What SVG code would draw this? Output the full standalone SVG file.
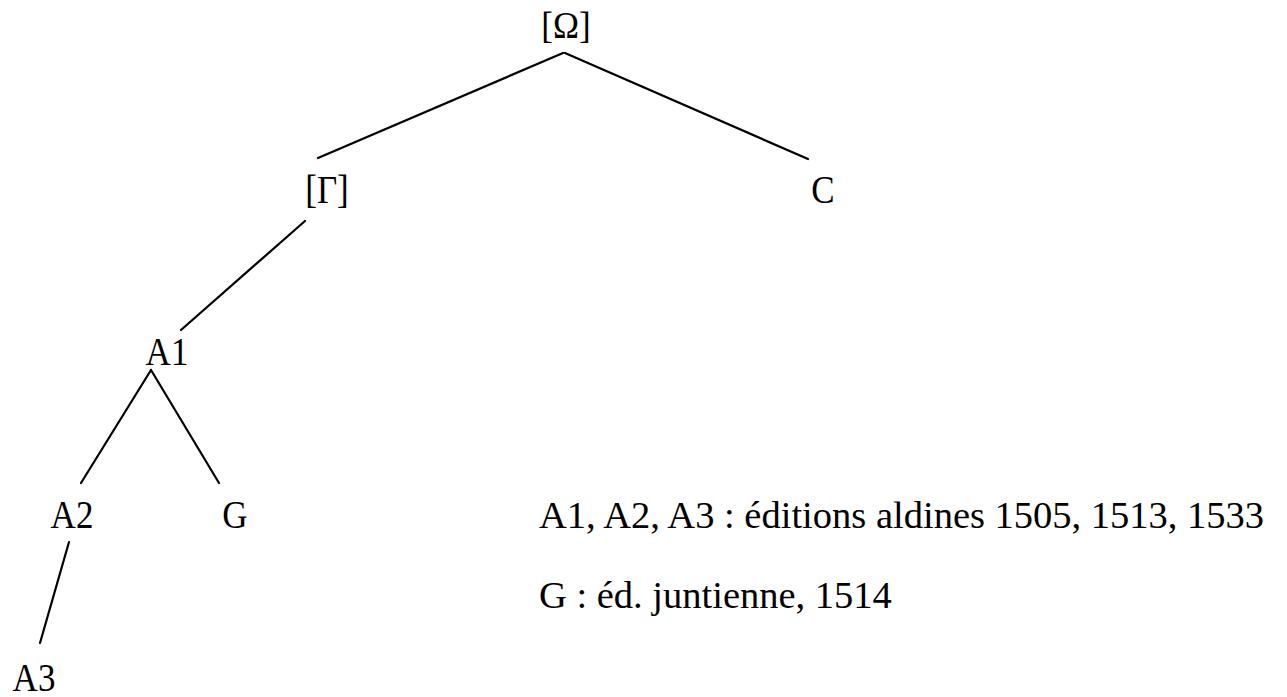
<svg xmlns="http://www.w3.org/2000/svg" width="1287" height="697" viewBox="0 0 1287 697">
<style>
text{font-family:"Liberation Serif","Times New Roman",serif;fill:#000}
.n{font-size:35px;text-anchor:middle}
.l{font-size:38.5px}
.e{stroke:#000;stroke-width:2.2;fill:none;stroke-linecap:round}
</style>
<rect width="1287" height="697" fill="#fff"/>
<g id="connectors">
<line class="e" x1="563" y1="53" x2="318" y2="158"/>
<line class="e" x1="565" y1="53" x2="808" y2="159"/>
<line class="e" x1="305" y1="221" x2="181" y2="330"/>
<line class="e" x1="151" y1="370" x2="81" y2="483"/>
<line class="e" x1="151" y1="370" x2="219" y2="483"/>
<line class="e" x1="69" y1="542" x2="40" y2="643"/>
</g>
<g id="node-omega"><text class="n" transform="translate(566,38) scale(1,1.1)">[Ω]</text></g>
<g id="node-gamma"><text class="n" transform="translate(327,203) scale(1,1.15)">[Γ]</text></g>
<g id="node-C"><text class="n" transform="translate(823,203) scale(1,1.15)">C</text></g>
<g id="node-A1"><text class="n" transform="translate(167,365) scale(1,1.15)">A1</text></g>
<g id="node-A2"><text class="n" transform="translate(72,528) scale(1,1.15)">A2</text></g>
<g id="node-G"><text class="n" transform="translate(235,528) scale(1,1.15)">G</text></g>
<g id="node-A3"><text class="n" transform="translate(34,691) scale(1,1.15)">A3</text></g>
<g id="legend">
<text class="l" x="539" y="528">A1, A2, A3 : éditions aldines 1505, 1513, 1533</text>
<text class="l" x="539" y="608">G : éd. juntienne, 1514</text>
</g>
</svg>
